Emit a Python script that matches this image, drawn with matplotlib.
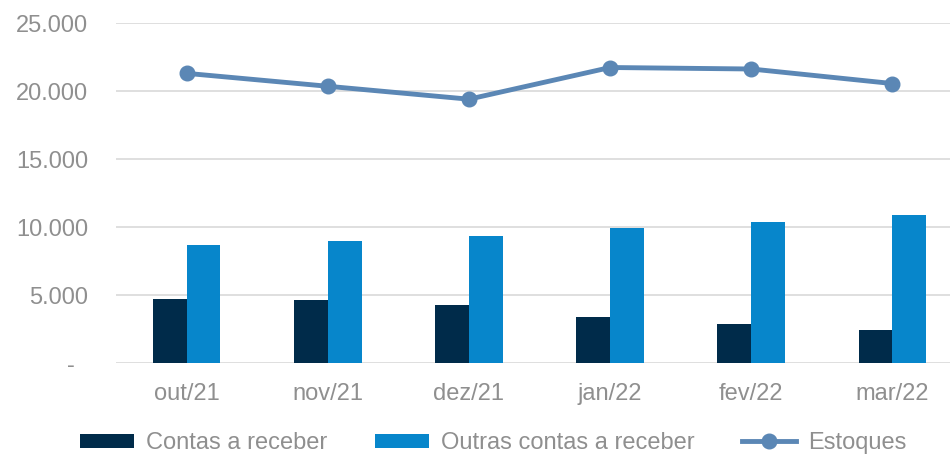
import matplotlib

matplotlib.use("Agg")
import matplotlib.pyplot as plt
import numpy as np

months = ["out/21", "nov/21", "dez/21", "jan/22", "fev/22", "mar/22"]
contas_receber = [4750, 4630, 4260, 3390, 2870, 2440]
outras_contas = [8680, 8970, 9340, 9930, 10370, 10880]
estoques = [21320, 20370, 19420, 21750, 21640, 20570]
y_ticks = [0, 5000, 10000, 15000, 20000, 25000]
y_labels = ["-  ", "5.000", "10.000", "15.000", "20.000", "25.000"]

plt.rcParams["font.family"] = ["Liberation Sans", "DejaVu Sans"]
GREY = "#8f8f8f"
FS = 17

fig = plt.figure(figsize=(9.5, 4.54), dpi=100)
ax = fig.add_axes([116 / 950, 90.7 / 454, 847 / 950, 340 / 454])

x = np.arange(len(months))
w = 0.24
b1 = ax.bar(x - w / 2, contas_receber, width=w, color="#002b4a", label="Contas a receber", zorder=2)
b2 = ax.bar(x + w / 2, outras_contas, width=w, color="#0786cb", label="Outras contas a receber", zorder=2)
ln, = ax.plot(x, estoques, color="#5b87b5", linewidth=3.5, marker="o", markersize=10.5,
              label="Estoques", zorder=3)

ax.set_xlim(-0.5, len(months) - 0.5)
ax.set_ylim(0, 25000)
ax.set_yticks(y_ticks)
ax.set_yticklabels(y_labels)
ax.set_xticks(x)
ax.set_xticklabels(months)
ax.tick_params(axis="both", length=0, labelsize=FS, labelcolor=GREY)
ax.tick_params(axis="y", pad=20)
ax.tick_params(axis="x", pad=14)
ax.grid(axis="y", color="#d9d9d9", linewidth=1.2, zorder=0)
ax.set_axisbelow(True)
for s in ax.spines.values():
    s.set_visible(False)

fig.legend([b1, b2, ln], ["Contas a receber", "Outras contas a receber", "Estoques"],
           loc="center", bbox_to_anchor=(493 / 950, 11 / 454), ncol=3, frameon=False,
           fontsize=FS, handlelength=2.3, handleheight=0.55, handletextpad=0.5,
           columnspacing=2.0, labelcolor=GREY, borderpad=0)

fig.savefig("out.png", dpi=100)
